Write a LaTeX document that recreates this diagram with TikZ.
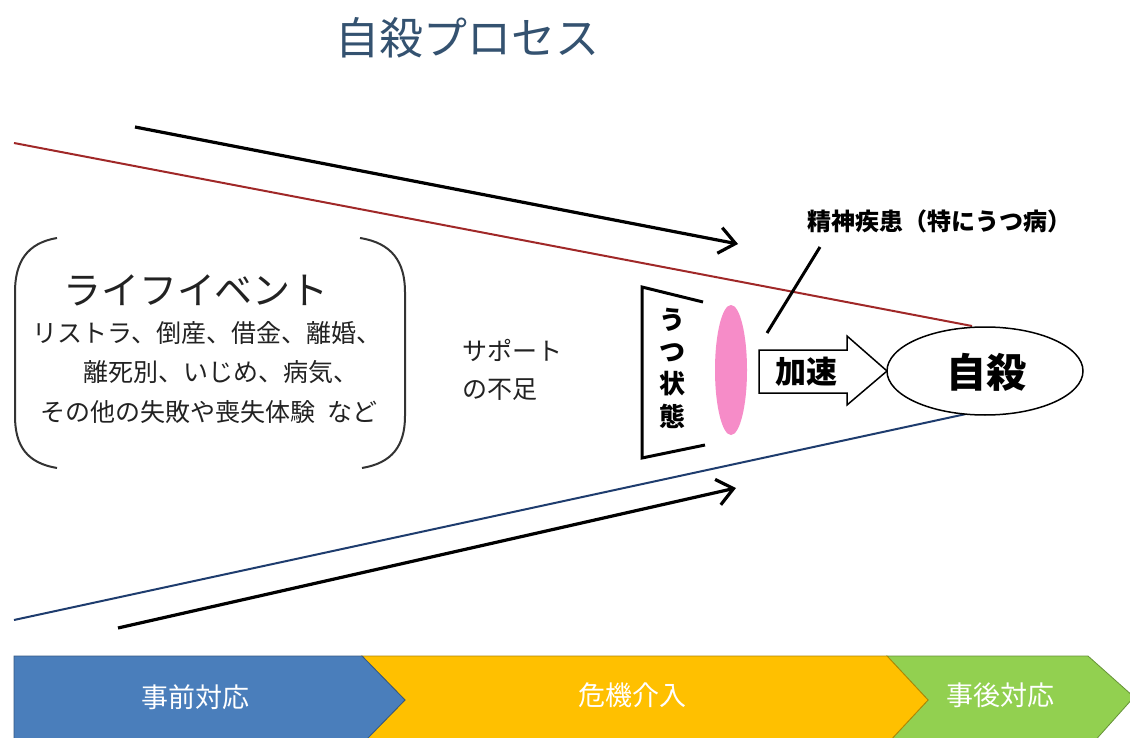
\documentclass[tikz,border=0pt]{standalone}
\usepackage{fontspec}
\setmainfont{Noto Sans CJK JP}
\usetikzlibrary{arrows.meta,shapes.geometric}
\definecolor{titleblue}{RGB}{52,82,112}
\definecolor{redline}{RGB}{160,40,40}
\definecolor{blueline}{RGB}{30,60,110}
\definecolor{pinkfill}{RGB}{246,140,200}
\definecolor{chevblue}{RGB}{74,126,187}
\definecolor{chevyellow}{RGB}{255,192,0}
\definecolor{chevgreen}{RGB}{146,208,80}
\definecolor{textdark}{RGB}{34,34,34}
\tikzset{
  fs/.style={font=\fontsize{#1}{#1}\selectfont},
  txt/.style={inner sep=0pt, text=textdark},
  bigarrow/.style={line width=3.2pt, -{Straight Barb[length=16pt,width=26pt]}},
  bracket/.style={line width=2pt, draw=black!80},
  chev/.style={draw=#1!70!black, line width=0.8pt, fill=#1},
  chevtext/.style={text=white, inner sep=0pt, font=\fontsize{27}{27}\selectfont}
}
\begin{document}
\begin{tikzpicture}[x=1pt,y=-1pt]
\useasboundingbox (0,0) rectangle (1130,738);
\fill[white] (0,0) rectangle (1130,738);

% title
\node[txt, text=titleblue, fs=44] (title) at (467,38) {自殺プロセス};

% funnel lines
\coordinate (rA) at (14,143);
\coordinate (rB) at (972,326);
\coordinate (bA) at (14,620);
\coordinate (bB) at (966,414);
\draw[redline, line width=2pt] (rA) -- (rB);
\draw[blueline, line width=2pt] (bA) -- (bB);

% black arrows
\coordinate (t1) at (135,127);
\coordinate (t2) at (738,244);
\coordinate (u1) at (118,628);
\coordinate (u2) at (736,488);
\draw[bigarrow] (t1) -- (t2);
\draw[bigarrow] (u1) -- (u2);

% brackets
\draw[bracket] (57,238) .. controls (27,243) and (15,262) .. (15,292) -- (15,416) .. controls (15,446) and (27,463) .. (57,468);
\draw[bracket] (360,238) .. controls (392,243) and (405,262) .. (405,292) -- (405,416) .. controls (405,446) and (392,463) .. (362,468);

% life events
\node[txt, fs=38] (life) at (196,290) {ライフイベント};
\node[txt, fs=25] (l1) at (207,333) {リストラ、倒産、借金、離婚、};
\node[txt, fs=25] (l2) at (221,372) {離死別、いじめ、病気、};
\node[txt, fs=25] (l3) at (209,412) {その他の失敗や喪失体験\hspace{0.5em}など};

% support
\node[txt, fs=25, anchor=west] (sup1) at (462,350) {サポート};
\node[txt, fs=25, anchor=west] (sup2) at (462,390) {の不足};

% utsu state bracket
\draw[line width=3pt, line join=miter] (703,302) -- (642,287) -- (642,458) -- (705,445);
\node[txt, align=center, font=\bfseries\fontsize{26}{32.3}\selectfont, text=black] (utsu) at (672,368) {う\\つ\\状\\態};

% pink ellipse
\node[ellipse, fill=pinkfill, minimum width=32pt, minimum height=130pt, inner sep=0pt] (pink) at (731,370) {};

% label line
\node[txt, text=black, font=\bfseries\fontsize{24}{24}\selectfont] (seishin) at (939,221) {精神疾患（特にうつ病）};
\coordinate (p1) at (820,247);
\coordinate (p2) at (767,333);
\draw[line width=3pt] (p1) -- (p2);

% acceleration block arrow
\draw[line width=1.5pt, fill=white] (759,350) -- (847,350) -- (847,336) -- (887,371) -- (847,405) -- (847,393) -- (759,393) -- cycle;
\node[txt, text=black, font=\bfseries\fontsize{31}{31}\selectfont] (kasoku) at (806,372) {加速};

% suicide ellipse
\node[ellipse, draw, line width=1.5pt, fill=white, minimum width=196pt, minimum height=88pt, inner sep=0pt] (jisatsu) at (985,371) {};
\node[txt, text=black, font=\bfseries\fontsize{40}{40}\selectfont] (jisatsuT) at (986,372) {自殺};

% chevrons
\begin{scope}
\clip (0,0) rectangle (1130,738);
\draw[chev=chevgreen] (887,656) -- (1088,656) -- (1134,697) -- (1092,744) -- (887,744) -- (928,700) -- cycle;
\draw[chev=chevyellow] (362,656) -- (887,656) -- (928,700) -- (887,744) -- (362,744) -- (405,700) -- cycle;
\draw[chev=chevblue] (14,656) -- (362,656) -- (405,700) -- (362,744) -- (14,744) -- cycle;
\end{scope}
\node[chevtext] (c1) at (195,697) {事前対応};
\node[chevtext] (c2) at (632,695) {危機介入};
\node[chevtext] (c3) at (1000,695) {事後対応};
\end{tikzpicture}
\end{document}
